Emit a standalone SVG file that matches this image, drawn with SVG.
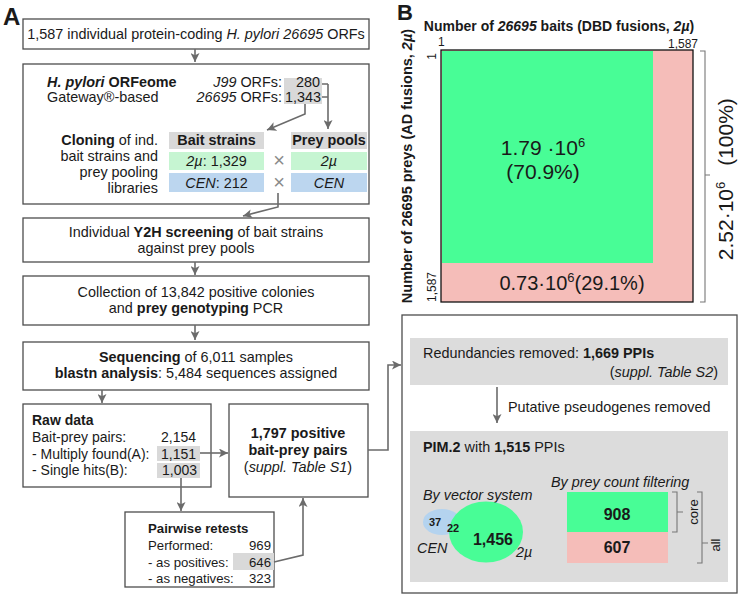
<svg xmlns="http://www.w3.org/2000/svg" width="740" height="595" viewBox="0 0 740 595">
<defs>
<style>
text{font-family:"Liberation Sans",Arial,sans-serif;font-size:14.4px;fill:#1a1a1a}
.s{font-size:14px}
.t{font-size:13.2px}
.b{font-weight:bold}
.i{font-style:italic}
.m{text-anchor:middle}
.e{text-anchor:end}
.box{fill:#fff;stroke:#4d4d4d;stroke-width:1.3}
.gr{fill:#d9d9d9}
.con{fill:none;stroke:#6b6b6b;stroke-width:1.6}
.arr{marker-end:url(#ah)}
.thin{fill:none;stroke:#777;stroke-width:1.1}
</style>
<marker id="ah" viewBox="0 0 10 10" refX="10" refY="5" markerWidth="9" markerHeight="9" markerUnits="userSpaceOnUse" orient="auto">
<path d="M0,0 L10,5 L0,10 L2.5,5 z" fill="#6b6b6b"/>
</marker>
</defs>
<rect width="740" height="595" fill="#fff"/>

<text x="3" y="25" class="b" style="font-size:24px">A</text>
<text x="397" y="20" class="b" style="font-size:22px">B</text>

<g id="n-orfs">
<rect class="box" x="23" y="19" width="346" height="30"/>
<text x="196" y="39" class="m">1,587 individual protein-coding <tspan class="i">H. pylori 26695</tspan> ORFs</text>
</g>

<g id="n-orfeome">
<rect class="box" x="23" y="64" width="346" height="140"/>
<text x="47" y="87"><tspan class="b i">H. pylori</tspan><tspan class="b"> ORFeome</tspan></text>
<text x="47" y="102">Gateway®-based</text>
<text x="282" y="87" class="e"><tspan class="i">J99</tspan> ORFs:</text>
<text x="282" y="102" class="e"><tspan class="i">26695</tspan> ORFs:</text>
<rect class="gr" x="284" y="78" width="38" height="13"/>
<rect class="gr" x="284" y="91" width="38" height="13"/>
<text x="320" y="87" class="e">280</text>
<text x="321" y="102" class="e">1,343</text>
<text x="158" y="145" class="e"><tspan class="b">Cloning</tspan> of ind.</text>
<text x="158" y="161" class="e">bait strains and</text>
<text x="158" y="177" class="e">prey pooling</text>
<text x="158" y="193" class="e">libraries</text>
<rect class="gr" x="169" y="132" width="95" height="17"/>
<rect class="gr" x="291" y="132" width="76" height="17"/>
<rect x="169" y="152" width="95" height="18" fill="#c6f5d2"/>
<rect x="291" y="152" width="76" height="18" fill="#c6f5d2"/>
<rect x="169" y="173" width="95" height="19" fill="#bcd6ef"/>
<rect x="291" y="173" width="76" height="19" fill="#bcd6ef"/>
<text x="216.5" y="145" class="m b">Bait strains</text>
<text x="329" y="145" class="m b">Prey pools</text>
<text x="216.5" y="166" class="m"><tspan class="i">2µ</tspan>: 1,329</text>
<text x="329" y="166" class="m i">2µ</text>
<text x="216.5" y="188" class="m"><tspan class="i">CEN</tspan>: 212</text>
<text x="329" y="188" class="m i">CEN</text>
<text x="279" y="167" class="m" style="font-size:20px;fill:#8a8a8a">×</text>
<text x="279" y="189" class="m" style="font-size:20px;fill:#8a8a8a">×</text>
</g>

<g id="n-screening">
<rect class="box" x="23" y="218" width="346" height="44"/>
<text x="196" y="237" class="m">Individual <tspan class="b">Y2H screening</tspan> of bait strains</text>
<text x="196" y="253" class="m">against prey pools</text>
</g>

<g id="n-collection">
<rect class="box" x="23" y="276" width="346" height="49"/>
<text x="196" y="297" class="m">Collection of 13,842 positive colonies</text>
<text x="196" y="313" class="m">and <tspan class="b">prey genotyping</tspan> PCR</text>
</g>

<g id="n-sequencing">
<rect class="box" x="23" y="342" width="346" height="48"/>
<text x="196" y="362" class="m"><tspan class="b">Sequencing</tspan> of 6,011 samples</text>
<text x="196" y="378" class="m"><tspan class="b">blastn analysis</tspan>: 5,484 sequences assigned</text>
</g>

<g id="n-raw">
<rect class="box" x="23" y="404" width="188" height="83"/>
<text x="32" y="425" class="b s">Raw data</text>
<text x="32" y="442" class="s">Bait-prey pairs:</text>
<text x="32" y="459" class="s">- Multiply found(A):</text>
<text x="32" y="475" class="s">- Single hits(B):</text>
<rect class="gr" x="157" y="446" width="43" height="15"/>
<rect class="gr" x="157" y="463" width="43" height="15"/>
<text x="196" y="442" class="e s">2,154</text>
<text x="196" y="459" class="e s">1,151</text>
<text x="197" y="475" class="e s">1,003</text>
</g>

<g id="n-positive">
<rect class="box" x="229" y="404" width="139" height="93"/>
<text x="298" y="438" class="m b">1,797 positive</text>
<text x="298" y="455" class="m b">bait-prey pairs</text>
<text x="298" y="472" class="m">(<tspan class="i">suppl. Table S1</tspan>)</text>
</g>

<g id="n-retests">
<rect class="box" x="125" y="512" width="149" height="75"/>
<text x="148" y="533" class="b t">Pairwise retests</text>
<text x="148" y="550" class="t">Performed:</text>
<text x="148" y="567" class="t">- as positives:</text>
<text x="148" y="583" class="t">- as negatives:</text>
<rect class="gr" x="233" y="553" width="41" height="17"/>
<text x="271" y="550" class="e t">969</text>
<text x="271" y="567" class="e t">646</text>
<text x="271" y="583" class="e t">323</text>
</g>

<g id="n-matrix">
<rect x="441" y="50" width="252" height="252" fill="#f5bdb9" stroke="#111" stroke-width="1.3"/>
<rect x="442" y="51" width="211" height="212" fill="#48fd96"/>
<text x="559" y="31" class="m b" style="font-size:14px">Number of <tspan class="i">26695</tspan> baits (DBD fusions, <tspan class="i">2µ</tspan>)</text>
<text x="438" y="46" style="font-size:12px">1</text>
<text x="698" y="48" class="e" style="font-size:12px">1,587</text>
<text transform="translate(412,166) rotate(-90)" class="m b" style="font-size:14.5px">Number of 26695 preys (AD fusions, <tspan class="i">2µ</tspan>)</text>
<text transform="translate(436,53) rotate(-90)" class="e" style="font-size:12px">1</text>
<text transform="translate(436,302) rotate(-90)" style="font-size:12px">1,587</text>
<text x="543" y="155" class="m" style="font-size:21px">1.79 ·10<tspan dy="-8" style="font-size:13px">6</tspan></text>
<text x="543" y="179" class="m" style="font-size:21px">(70.9%)</text>
<text x="572" y="290" class="m" style="font-size:20px">0.73·10<tspan dy="-8" style="font-size:13px">6</tspan><tspan dy="8">(29.1%)</tspan></text>
<path class="thin" d="M700,51 H705 V302 H700 M705,175 H710"/>
<text transform="translate(733,221) rotate(-90)" class="m" style="font-size:21px">2.52·10<tspan dy="-8" style="font-size:13px">6</tspan></text>
<text transform="translate(733,132) rotate(-90)" class="m" style="font-size:21px">(100%)</text>
</g>

<g id="n-ppi">
<rect class="box" x="402" y="315" width="335" height="278"/>
<rect x="410" y="338" width="318" height="47" fill="#dcdcdc"/>
<text x="423" y="358">Redundancies removed: <tspan class="b">1,669 PPIs</tspan></text>
<text x="718" y="377" class="e">(<tspan class="i">suppl. Table S2</tspan>)</text>
<text x="508" y="412">Putative pseudogenes removed</text>
<rect x="410" y="431" width="318" height="151" fill="#dcdcdc"/>
<text x="423" y="452"><tspan class="b">PIM.2</tspan> with <tspan class="b">1,515</tspan> PPIs</text>
<text x="423" y="500" class="i">By vector system</text>
<text x="551" y="487" class="i">By prey count filtering</text>
<ellipse cx="442" cy="522" rx="19" ry="13" fill="#b4d3ef"/>
<ellipse cx="486" cy="532" rx="37" ry="30.5" fill="#48fd96"/>
<text x="435" y="526" class="m b" style="font-size:11px">37</text>
<text x="453" y="532" class="m b" style="font-size:11px">22</text>
<text x="493" y="545" class="m b" style="font-size:16px">1,456</text>
<text x="417" y="553" class="i">CEN</text>
<text x="516" y="557" class="i">2µ</text>
<rect x="567" y="492" width="101" height="40" fill="#48fd96"/>
<rect x="567" y="532" width="101" height="31" fill="#f5bdb9"/>
<text x="617" y="520" class="m b" style="font-size:16px">908</text>
<text x="617" y="553" class="m b" style="font-size:16px">607</text>
<path class="thin" d="M672,492 H677 V532 H672 M677,512 H683"/>
<path class="thin" d="M697,492 H702 V563 H697 M702,543 H708"/>
<text transform="translate(698,512) rotate(-90)" class="m" style="font-size:13px">core</text>
<text transform="translate(720,545) rotate(-90)" class="m" style="font-size:13px">all</text>
</g>

<g id="connectors">
<path class="con arr" d="M195,49 V62"/>
<path class="con" d="M322,84 H328 M322,97 H328"/>
<path class="con arr" d="M328,84 V129"/>
<path class="con arr" d="M305,104 V114 L267,130"/>
<path class="con arr" d="M278,193 V207 L243,216"/>
<path class="con arr" d="M195,262 V275"/>
<path class="con arr" d="M195,325 V340"/>
<path class="con arr" d="M102,390 V403"/>
<path class="con arr" d="M200,453 H228"/>
<path class="con arr" d="M181,478 V511"/>
<path class="con arr" d="M274,562 L303,555 V498"/>
<path class="con arr" d="M368,450 H388 V365 H401"/>
<path class="con arr" d="M497,387 V423"/>
</g>
</svg>
